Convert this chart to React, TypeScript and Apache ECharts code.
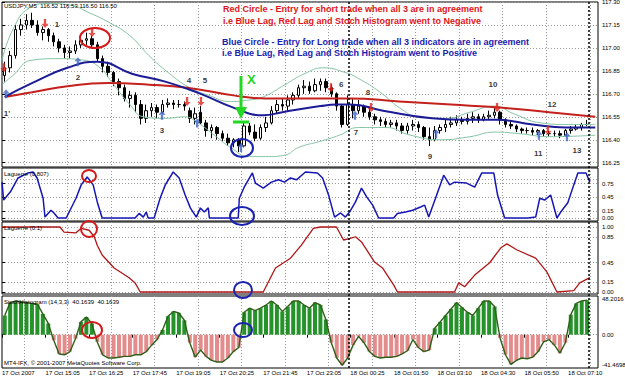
import React, { useEffect, useRef } from "react";
import * as echarts from "echarts";

// one candle per 2 bars: [open, close, low, high]
const candles: number[][] = [
  [116.82,116.87,116.78,116.91],[116.87,116.95,116.84,116.98],[116.95,117.12,116.93,117.15],[117.12,117.15,117.08,117.19],
  [117.15,117.18,117.12,117.22],[117.18,117.15,117.13,117.23],[117.15,117.10,117.08,117.18],[117.10,117.12,117.05,117.14],
  [117.12,117.08,117.04,117.13],[117.08,117.04,117.01,117.10],[117.04,117.00,116.97,117.06],[117.00,116.97,116.93,117.02],
  [116.97,116.98,116.93,117.01],[116.98,117.02,116.96,117.05],[117.02,117.05,117.00,117.09],[117.05,117.06,117.02,117.10],
  [117.06,117.02,117.00,117.08],[117.02,116.93,116.91,117.04],[116.93,116.88,116.84,116.95],[116.88,116.84,116.81,116.91],
  [116.84,116.78,116.75,116.85],[116.78,116.74,116.69,116.80],[116.74,116.67,116.65,116.76],[116.67,116.69,116.61,116.72],
  [116.69,116.63,116.58,116.71],[116.63,116.54,116.50,116.66],[116.54,116.59,116.51,116.63],[116.59,116.61,116.55,116.64],
  [116.61,116.58,116.54,116.63],[116.58,116.63,116.57,116.66],[116.63,116.64,116.61,116.67],[116.64,116.63,116.60,116.66],
  [116.63,116.63,116.61,116.66],[116.63,116.62,116.59,116.65],[116.59,116.54,116.51,116.61],[116.54,116.57,116.50,116.61],
  [116.58,116.51,116.50,116.62],[116.51,116.46,116.42,116.53],[116.46,116.48,116.41,116.50],[116.48,116.44,116.40,116.49],
  [116.44,116.41,116.39,116.46],[116.41,116.38,116.36,116.44],[116.38,116.40,116.35,116.41],[116.40,116.36,116.32,116.41],
  [116.36,116.49,116.35,116.51],[116.49,116.45,116.43,116.51],[116.45,116.41,116.39,116.50],[116.41,116.48,116.40,116.50],
  [116.48,116.51,116.45,116.55],[116.51,116.59,116.50,116.62],[116.59,116.63,116.57,116.66],[116.63,116.62,116.59,116.67],
  [116.62,116.66,116.59,116.69],[116.66,116.69,116.63,116.71],[116.69,116.74,116.67,116.76],[116.74,116.75,116.70,116.79],
  [116.75,116.72,116.70,116.78],[116.72,116.76,116.71,116.80],[116.76,116.78,116.72,116.80],[116.78,116.74,116.71,116.80],
  [116.74,116.70,116.68,116.76],[116.70,116.62,116.59,116.71],[116.62,116.50,116.48,116.63],[116.50,116.63,116.49,116.69],
  [116.63,116.59,116.54,116.67],[116.59,116.62,116.57,116.66],[116.62,116.58,116.55,116.63],[116.58,116.55,116.53,116.61],
  [116.55,116.53,116.50,116.57],[116.53,116.52,116.49,116.55],[116.52,116.50,116.48,116.54],[116.50,116.51,116.48,116.53],
  [116.51,116.49,116.46,116.53],[116.49,116.46,116.44,116.51],[116.46,116.49,116.44,116.51],[116.49,116.50,116.46,116.53],
  [116.50,116.48,116.45,116.52],[116.48,116.42,116.40,116.49],[116.42,116.40,116.36,116.48],[116.40,116.46,116.39,116.49],
  [116.46,116.48,116.44,116.50],[116.48,116.50,116.45,116.53],[116.50,116.51,116.48,116.55],[116.51,116.53,116.49,116.56],
  [116.53,116.52,116.50,116.55],[116.52,116.54,116.50,116.57],[116.54,116.55,116.51,116.58],[116.55,116.53,116.51,116.57],
  [116.53,116.55,116.52,116.57],[116.55,116.56,116.53,116.59],[116.56,116.58,116.54,116.61],[116.58,116.53,116.50,116.59],
  [116.53,116.50,116.48,116.54],[116.50,116.49,116.47,116.52],[116.49,116.47,116.45,116.50],[116.47,116.46,116.44,116.48],
  [116.46,116.46,116.44,116.48],[116.46,116.45,116.43,116.48],[116.45,116.46,116.43,116.47],[116.46,116.44,116.42,116.47],
  [116.44,116.44,116.42,116.46],[116.44,116.44,116.42,116.46],[116.44,116.43,116.41,116.46],[116.43,116.46,116.42,116.47],
  [116.46,116.47,116.44,116.49],[116.47,116.48,116.46,116.50],[116.48,116.50,116.46,116.51],[116.50,116.50,116.49,116.53],
];

// [bar, price]
const blueMA = [[1,116.68],[11,116.77],[24,116.87],[35,116.91],[48,116.83],[60,116.78],[73,116.70],[85,116.61],[96,116.56],[103,116.58],[117,116.62],[123,116.63],[128,116.63],[140,116.59],[158,116.54],[171,116.53],[182,116.53],[195,116.50],[207,116.48],[218,116.48]];
const redMA = [[1,116.68],[11,116.71],[24,116.75],[39,116.77],[54,116.76],[68,116.74],[85,116.69],[97,116.67],[109,116.67],[128,116.67],[146,116.65],[165,116.63],[183,116.61],[201,116.58],[218,116.55]];
const bbUpper = [[0,116.92],[4,117.12],[10,117.26],[17,117.29],[25,117.28],[32,117.23],[39,117.17],[47,117.08],[54,116.95],[61,116.84],[69,116.74],[76,116.69],[84,116.65],[91,116.66],[96,116.68],[104,116.76],[111,116.83],[118,116.87],[126,116.84],[131,116.80],[139,116.71],[146,116.61],[153,116.55],[163,116.54],[172,116.58],[181,116.62],[188,116.57],[198,116.51],[207,116.50],[218,116.50]];
const bbLower = [[0,116.76],[4,116.82],[11,116.92],[21,116.93],[30,116.92],[36,116.87],[41,116.76],[47,116.63],[52,116.55],[60,116.54],[67,116.55],[72,116.51],[78,116.43],[84,116.35],[91,116.29],[98,116.29],[104,116.30],[109,116.35],[117,116.39],[124,116.43],[131,116.48],[141,116.48],[150,116.43],[161,116.40],[172,116.42],[181,116.45],[190,116.44],[201,116.42],[218,116.43]];

const blueLag = [[0,0.78],[0.6,0.39],[3.1,0.57],[5.9,0.87],[9.6,0.98],[11.4,1],[12.9,0.87],[15.1,0.43],[15.8,0.02],[18,0.17],[19.1,0.11],[20.6,0],[23.6,0],[27.2,0.43],[29.1,0.72],[31.3,0.89],[33.5,0.72],[35,0.35],[36.8,0],[48.9,0],[50.4,0.1],[51.9,0.02],[53,0.13],[53.7,0],[55.9,0],[58.1,0.43],[60,0.72],[62.9,1],[65.1,0.87],[67.3,0.5],[69.2,0.22],[71.4,0.02],[72.9,0.22],[74.3,0.13],[75.8,0.22],[76.2,0],[86.8,0],[87.2,0.43],[89,0.67],[92,0.98],[93.1,0.76],[96,0.65],[99,0.78],[101.6,0.83],[103.8,0.78],[106,0.87],[108.2,0.83],[111.5,1],[115.9,0.98],[117.8,0.87],[120,0.5],[122.2,0.02],[124.4,0.11],[126.2,0.02],[127.7,0.13],[129.9,0.35],[132.1,0.65],[134,0.46],[136.2,0.28],[138.4,0],[143.9,0],[145.3,0.1],[148.3,0.13],[150.9,0.17],[153.8,0.24],[155.3,0.28],[156.8,0.02],[159.3,0.43],[162.3,0.93],[164.5,0.72],[166.3,0.78],[170.7,0.76],[173.7,0.67],[176.3,0.98],[180.7,0.98],[182.1,0.5],[184.7,0],[193.2,0],[196.1,0.02],[197.6,0.43],[199.4,0.39],[201.6,0.5],[203.9,0],[205.3,0.13],[207.9,0.33],[210.1,0.72],[211.6,0.98],[214.6,0.98],[216,0.78]];
const redLag = [[0,1],[21.3,1],[22.8,0.92],[27.2,0.91],[29.1,0.98],[32,0.95],[33.9,0.85],[35,0.72],[36.8,0.57],[41.2,0.37],[46.7,0.22],[48.9,0.14],[50.8,0],[96,0],[98.2,0.18],[100.5,0.37],[106,0.52],[110,0.72],[114.4,0.98],[117,1],[122.9,1],[125.5,0.8],[127.7,0.82],[129.9,0.85],[132.1,0.77],[136.9,0.46],[139.8,0.37],[143.9,0.11],[145.3,0],[166.3,0],[167.8,0.14],[170,0.08],[173.7,0.26],[179.2,0.45],[183.3,0.68],[185.5,0.74],[189.1,0.65],[196.1,0.52],[200.2,0.31],[203.9,0],[210.1,0.02],[212.3,0.14],[216,0.22]];
// one value per 2 bars
const stochHist = [24,40,42,41,40,39,38,26,14,-7,
  -24,-25,-21,-5,16,22,14,-9,-25,-29,
  -29,-28,-27,-27,-25,-25,-21,-13,-6,6,
  23,29,27,18,-10,-28,-19,-27,-32,-34,
  -34,-29,-21,-16,28,33,30,33,37,42,
  37,29,35,42,42,37,33,40,37,19,
  -10,-29,-38,-29,-13,-2,-10,-21,-27,-29,
  -28,-28,-27,-24,-20,-6,-16,-21,-19,8,
  16,24,32,40,34,28,24,33,42,42,
  35,-4,-25,-37,-32,-29,-30,-28,-21,-9,
  -6,-13,-23,-10,25,39,42,43];

const timeLabels = ["17 Oct 2007","17 Oct 15:05","17 Oct 16:25","17 Oct 17:45","17 Oct 19:05","17 Oct 20:25","17 Oct 21:45","17 Oct 23:05","18 Oct 00:25","18 Oct 01:50","18 Oct 03:10","18 Oct 04:30","18 Oct 05:50","18 Oct 07:10"];
const priceTicks = [117.30,117.15,117.00,116.85,116.70,116.55,116.40,116.25];
const blueLevels = [0.85,0.75,0.45,0.15,0];
const redLevels = [1,0.85,0.45,0.15,0];
const stochMax = 48.2016;
const stochMin = -41.4698;

const shortSignals = [[0.7,116.87],[15.8,117.16],[33.1,117.10],[68,116.65],[73.1,116.65],[120.9,116.74],[135.6,116.61],[181.9,116.61],[200.6,116.46]];
const longSignals = [[1.5,116.70],[27.9,116.91],[58.8,116.56],[71.7,116.51],[87.8,116.35],[129.7,116.56],[159.5,116.44],[197.3,116.43],[207.6,116.42]];
const waveLabels: [string, number, number][] = [["1",20.2,117.15],["1'",1.8,116.57],["2",27.9,116.81],["3",58.8,116.46],["4",68.7,116.79],["5",74.6,116.79],["6",124.6,116.76],["7",130.1,116.45],["8",134.5,116.71],["9",157.3,116.29],["10",180.4,116.76],["11",197,116.31],["12",202.1,116.63],["13",211.3,116.33]];

export default function App() {
  const ref = useRef<HTMLDivElement>(null);
  useEffect(() => {
    if (!ref.current) return;
    const chart = echarts.init(ref.current, undefined, { renderer: "svg" });
    const FONT = '"Liberation Sans", Arial, sans-serif';
    const BARS = 219;
    const gridBars = Array.from({ length: 14 }, (_, k) => 8 + 16 * k);
    const labelBars = timeLabels.map((_, k) => 16 * k);
    const dotted = { show: true, lineStyle: { color: "#9a9a9a", width: 1, type: [1, 2] } };
    const gridBoxes = [
      { top: 2, height: 165 },
      { top: 168, height: 53 },
      { top: 222, height: 72 },
      { top: 296, height: 72 },
    ];
    const grid = gridBoxes.map((g) => ({
      left: 2, width: 596, top: g.top, height: g.height,
      show: true, borderColor: "#000", borderWidth: 1, backgroundColor: "transparent",
      containLabel: false, outerBoundsMode: "none",
    }));
    const xAxis: any[] = gridBoxes.map((_, gi) => ({
      type: "value", gridIndex: gi, min: 0, max: BARS,
      axisLine: { show: false },
      axisTick: { show: false, customValues: gridBars },
      axisLabel: { show: false },
      splitLine: dotted,
    }));
    xAxis.push({
      type: "value", gridIndex: 3, position: "bottom", min: 0, max: BARS,
      axisLine: { show: false },
      axisTick: { show: true, customValues: labelBars, length: 3, lineStyle: { color: "#000" } },
      axisLabel: {
        customValues: labelBars, formatter: (v: number) => timeLabels[Math.round(v / 16)],
        align: "left", fontSize: 6, fontFamily: FONT, color: "#000", margin: 2,
      },
      splitLine: { show: false },
    });
    const lab = { fontSize: 6, fontFamily: FONT, color: "#000", margin: 4 };
    const yAxis: any[] = [
      {
        type: "value", gridIndex: 0, position: "right", min: 116.222, max: 117.3,
        axisLine: { show: false },
        axisTick: { show: true, customValues: priceTicks, length: 3, lineStyle: { color: "#000" } },
        axisLabel: { ...lab, customValues: priceTicks, formatter: (v: number) => v.toFixed(2) },
        splitLine: dotted,
      },
      {
        type: "value", gridIndex: 1, position: "right", min: -0.065, max: 1.087,
        axisLine: { show: false },
        axisTick: { show: true, customValues: blueLevels, length: 3, lineStyle: { color: "#000" } },
        axisLabel: { ...lab, customValues: blueLevels, formatter: (v: number) => v.toFixed(2) },
        splitLine: dotted,
      },
      {
        type: "value", gridIndex: 2, position: "right", min: -0.031, max: 1.077,
        axisLine: { show: false },
        axisTick: { show: true, customValues: redLevels, length: 3, lineStyle: { color: "#000" } },
        axisLabel: { ...lab, customValues: redLevels, formatter: (v: number) => v.toFixed(2) },
        splitLine: dotted,
      },
      {
        type: "value", gridIndex: 3, position: "right", min: stochMin, max: stochMax,
        axisLine: { show: false },
        axisTick: { show: true, customValues: [0], length: 3, lineStyle: { color: "#000" } },
        axisLabel: { ...lab, customValues: [0], formatter: (v: number) => v.toFixed(2) },
        splitLine: dotted,
      },
      {
        type: "value", gridIndex: 3, position: "right", min: stochMin, max: stochMax,
        axisLine: { show: false }, axisTick: { show: false }, splitLine: { show: false },
        axisLabel: { ...lab, customValues: [stochMax], verticalAlign: "top", formatter: (v: number) => v.toFixed(4) },
      },
      {
        type: "value", gridIndex: 3, position: "right", min: stochMin, max: stochMax,
        axisLine: { show: false }, axisTick: { show: false }, splitLine: { show: false },
        axisLabel: { ...lab, customValues: [stochMin], verticalAlign: "bottom", formatter: (v: number) => v.toFixed(4) },
      },
    ];

    const downArrow = "path://M3,0 L6,0 L6,6 L9,6 L4.5,11 L0,6 L3,6 Z";
    const upArrow = "path://M4.5,0 L9,5 L6,5 L6,11 L3,11 L3,5 L0,5 Z";

    const series: any[] = [
      {
        type: "candlestick", xAxisIndex: 0, yAxisIndex: 0, barWidth: 3,
        data: candles.map((c, i) => [2 * i + 1, c[0], c[1], c[2], c[3]]),
        itemStyle: { color: "#ffffff", color0: "#000000", borderColor: "#000000", borderColor0: "#000000", borderWidth: 1 },
      },
      { type: "line", xAxisIndex: 0, yAxisIndex: 0, data: bbUpper, smooth: true, symbol: "none", lineStyle: { color: "#86c4a4", width: 1 } },
      { type: "line", xAxisIndex: 0, yAxisIndex: 0, data: bbLower, smooth: true, symbol: "none", lineStyle: { color: "#86c4a4", width: 1 } },
      { type: "line", xAxisIndex: 0, yAxisIndex: 0, data: redMA, smooth: true, symbol: "none", lineStyle: { color: "#c4201c", width: 2 } },
      { type: "line", xAxisIndex: 0, yAxisIndex: 0, data: blueMA, smooth: true, symbol: "none", lineStyle: { color: "#1c1c96", width: 2 } },
      { type: "scatter", xAxisIndex: 0, yAxisIndex: 0, data: shortSignals, symbol: downArrow, symbolSize: [7, 9], itemStyle: { color: "#e2231a" }, z: 5 },
      { type: "scatter", xAxisIndex: 0, yAxisIndex: 0, data: longSignals, symbol: upArrow, symbolSize: [7, 9], itemStyle: { color: "#3f63c8" }, z: 5 },
      {
        type: "scatter", xAxisIndex: 0, yAxisIndex: 0, symbolSize: 1, itemStyle: { color: "transparent" }, z: 6,
        data: waveLabels.map(([n, b, p]) => ({ name: n, value: [b, p] })),
        label: { show: true, position: "inside", formatter: "{b}", fontSize: 8, fontWeight: "bold", fontFamily: FONT, color: "#000" },
      },
      { type: "line", xAxisIndex: 1, yAxisIndex: 1, data: blueLag, symbol: "none", lineStyle: { color: "#1616b4", width: 1.5 } },
      { type: "line", xAxisIndex: 2, yAxisIndex: 2, data: redLag, symbol: "none", lineStyle: { color: "#b01616", width: 1.3 } },
      {
        type: "bar", xAxisIndex: 3, yAxisIndex: 3, barWidth: 4,
        data: stochHist.map((v, i) => [2 * i + 1, v]),
        itemStyle: { color: (p: any) => (p.value[1] >= 0 ? "#25932a" : "#e38c8c") },
      },
      { type: "line", xAxisIndex: 3, yAxisIndex: 3, data: stochHist.map((v, i) => [2 * i + 1, v]), symbol: "none", lineStyle: { color: "#2f5f18", width: 1.4 }, z: 4 },
    ];

    const txt = (text: string, x: number, y: number, fill: string, size: number, weight = "normal") => ({
      type: "text", x, y, silent: true, z: 50,
      style: { text, fill, fontSize: size, fontWeight: weight, fontFamily: FONT },
    });
    const ell = (cx: number, cy: number, rx: number, ry: number, stroke: string) => ({
      type: "ellipse", silent: true, z: 50, shape: { cx, cy, rx, ry },
      style: { fill: "none", stroke, lineWidth: 2 },
    });
    const RED = "#d41a1a";
    const BLUE = "#1a22b0";
    const GREEN = "#22d822";

    const graphic = [
      txt("USDJPY,M5  116.52 116.53 116.50 116.50", 4, 3, "#000", 6),
      txt("Red Circle - Entry for short trade when all 3 are in agreement", 223, 4, "#e0141a", 9, "bold"),
      txt("i.e Blue Lag, Red Lag and Stoch Histogram went to Negative", 223, 16, "#e0141a", 9, "bold"),
      txt("Blue Circle - Entry for Long trade when all 3 indicators are in agreement", 222, 37, BLUE, 9, "bold"),
      txt("i.e Blue Lag, Red Lag and Stoch Histogram went to Positive", 222, 48, BLUE, 9, "bold"),
      txt("Laguerre (0.807)", 4, 171, "#000", 6),
      txt("Laguerre (0.1)", 4, 225, "#000", 6),
      txt("StochHistogram (14,3,3)  40.1639  40.1639", 4, 299, "#000", 6),
      txt("MT4-IFX, \u00a9 2001-2007 MetaQuotes Software Corp.", 4, 360, "#000", 6),
      { type: "line", silent: true, z: 40, shape: { x1: 349, y1: 2, x2: 349, y2: 368 }, style: { stroke: "#000", lineWidth: 1.5, lineDash: [2, 2] } },
      { type: "line", silent: true, z: 40, shape: { x1: 589, y1: 2, x2: 589, y2: 368 }, style: { stroke: "#000", lineWidth: 1.5, lineDash: [2, 2] } },
      ell(95, 38, 15, 10, RED),
      ell(89, 176, 7, 6, RED),
      ell(89, 229, 8, 8, RED),
      ell(92, 330, 10, 8, RED),
      ell(242, 148, 11, 9, BLUE),
      ell(242, 216, 12, 9, BLUE),
      ell(243, 290, 9, 8, BLUE),
      ell(243, 330, 9, 7, BLUE),
      { type: "line", silent: true, z: 55, shape: { x1: 241, y1: 76, x2: 241, y2: 110 }, style: { stroke: GREEN, lineWidth: 3 } },
      { type: "polygon", silent: true, z: 55, shape: { points: [[235, 107], [247, 107], [241, 119]] }, style: { fill: GREEN } },
      { type: "line", silent: true, z: 55, shape: { x1: 233, y1: 122, x2: 249, y2: 122 }, style: { stroke: GREEN, lineWidth: 3 } },
      txt("X", 247, 73, GREEN, 13, "bold"),
    ];

    chart.setOption({
      animation: false,
      backgroundColor: "#ffffff",
      grid, xAxis, yAxis, series, graphic,
    });
    return () => chart.dispose();
  }, []);
  return <div ref={ref} style={{ position: "absolute", left: 0, top: 0, width: 625, height: 378 }} />;
}
